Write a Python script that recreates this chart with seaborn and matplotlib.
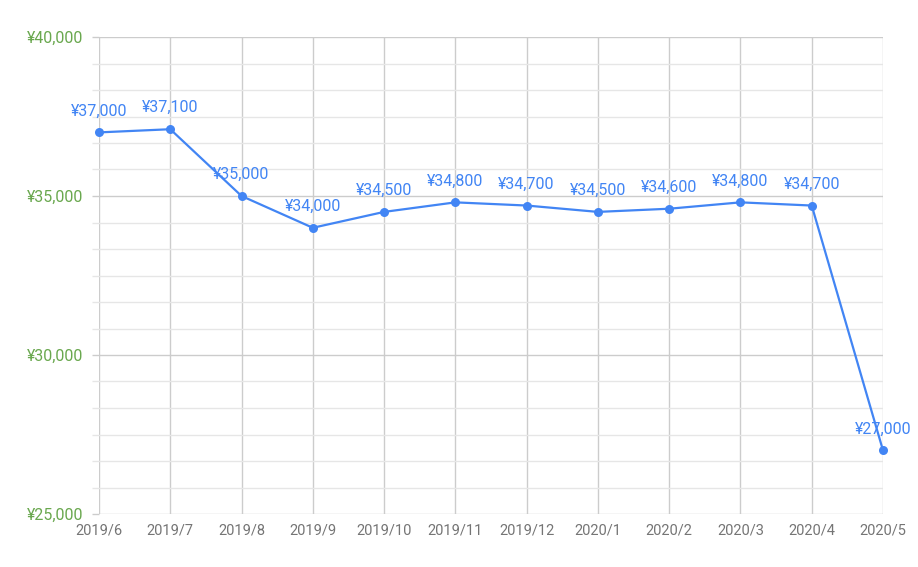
import numpy as np
import pandas as pd
import matplotlib
matplotlib.use("Agg")
import matplotlib.pyplot as plt
import seaborn as sns
from matplotlib.ticker import FixedLocator, FuncFormatter

# datos
meses = ["2019/6", "2019/7", "2019/8", "2019/9", "2019/10", "2019/11",
         "2019/12", "2020/1", "2020/2", "2020/3", "2020/4", "2020/5"]
precios = [37000, 37100, 35000, 34000, 34500, 34800,
           34700, 34500, 34600, 34800, 34700, 27000]
ticks_y = [25000, 30000, 35000, 40000]

df = pd.DataFrame({"mes": np.arange(len(meses)), "precio": precios})

sns.set_theme(style="white")
plt.rcParams["font.family"] = ["Roboto", "DejaVu Sans"]

AZUL = "#4285f4"
VERDE = "#6aa84f"
GRIS = "#757575"

fig = plt.figure(figsize=(9.18, 5.67), dpi=100)
ax = fig.add_axes([99 / 918, 1 - 514 / 567, (883 - 99) / 918, (514 - 37) / 567])

sns.lineplot(data=df, x="mes", y="precio", ax=ax, color=AZUL, linewidth=1.6,
             marker="o", markersize=6.5, markeredgewidth=0, zorder=3, clip_on=False)

ax.set_xlim(0, len(meses) - 1)
ax.set_ylim(25000, 40000)

# rejilla
ax.yaxis.set_major_locator(FixedLocator(ticks_y))
menores = [25000 + i * 5000 / 6 for i in range(19)]
ax.yaxis.set_minor_locator(FixedLocator([m for m in menores if m not in ticks_y]))
ax.yaxis.set_major_formatter(FuncFormatter(lambda v, p: f"¥{int(v):,}"))
ax.set_xticks(df["mes"])
ax.set_xticklabels(meses)

ax.grid(which="major", axis="both", color="#cccccc", linewidth=1)
ax.grid(which="minor", axis="y", color="#e6e6e6", linewidth=1)
ax.set_axisbelow(True)

for s in ax.spines.values():
    s.set_visible(False)

ax.tick_params(axis="y", which="major", length=5, color="#cccccc", width=1,
               labelsize=11.5, labelcolor=VERDE, pad=6, left=True)
ax.tick_params(axis="y", which="minor", length=5, color="#e6e6e6", width=1, left=True)
ax.tick_params(axis="x", length=0, labelsize=10.5, labelcolor=GRIS, pad=7)

# etiquetas de datos
for i, v in enumerate(precios):
    ax.annotate(f"¥{v:,}", (i, v), xytext=(0, 15.5), textcoords="offset points",
                ha="center", va="center", color=AZUL, fontsize=11.5)

ax.set_xlabel("")
ax.set_ylabel("")

fig.savefig("out.png", dpi=100)
